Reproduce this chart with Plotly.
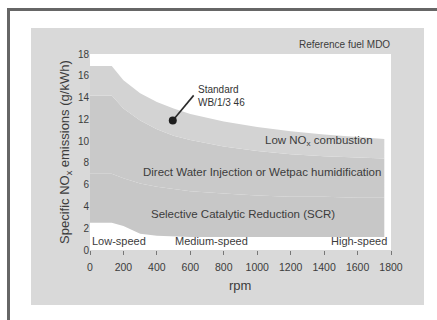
import plotly.graph_objects as go

# ---- data ----
rpm = [0, 130, 200, 300, 400, 500, 600, 800, 1000, 1200, 1400, 1600, 1760]
standard_top = [16.9, 16.9, 15.6, 14.4, 13.6, 13.0, 12.5, 11.8, 11.3, 10.9, 10.6, 10.4, 10.2]
low_nox_bottom = [14.2, 14.2, 13.0, 11.9, 11.1, 10.5, 10.1, 9.5, 9.1, 8.8, 8.6, 8.5, 8.4]
dwi_bottom = [7.0, 7.0, 6.6, 6.1, 5.8, 5.6, 5.4, 5.2, 5.0, 4.9, 4.9, 4.8, 4.8]
scr_bottom = [2.5, 2.5, 2.2, 1.5, 1.3, 1.25, 1.2, 1.2, 1.2, 1.2, 1.2, 1.2, 1.2]

x_ticks = [0, 200, 400, 600, 800, 1000, 1200, 1400, 1600, 1800]
y_ticks = [0, 2, 4, 6, 8, 10, 12, 14, 16, 18]

standard_point = (495, 11.9)
standard_label_end = (620, 14.2)

band_labels = ["Low NO<sub>x</sub> combustion",
               "Direct Water Injection or Wetpac humidification",
               "Selective Catalytic Reduction (SCR)"]
speed_labels = ["Low-speed", "Medium-speed", "High-speed"]

# ---- layout geometry (pixels) ----
W, H = 437, 320
L, R, T, B = 90, 391, 54, 250


def px(x):
    return (x - L) / (R - L)


def py(y):
    return (B - y) / (B - T)


txt = "#3c3c3c"
font = "Liberation Sans, Arial, sans-serif"

fig = go.Figure()
fig.add_trace(go.Scatter(x=rpm, y=scr_bottom, mode="lines", line=dict(width=0),
                         hoverinfo="skip", showlegend=False))
fig.add_trace(go.Scatter(x=rpm, y=dwi_bottom, mode="lines", line=dict(width=0),
                         fill="tonexty", fillcolor="#c7c7c7", hoverinfo="skip", showlegend=False))
fig.add_trace(go.Scatter(x=rpm, y=low_nox_bottom, mode="lines", line=dict(width=0),
                         fill="tonexty", fillcolor="#c9c9c9", hoverinfo="skip", showlegend=False))
fig.add_trace(go.Scatter(x=rpm, y=standard_top, mode="lines", line=dict(width=0),
                         fill="tonexty", fillcolor="#d3d3d3", hoverinfo="skip", showlegend=False))
fig.add_trace(go.Scatter(x=[standard_point[0], standard_label_end[0]],
                         y=[standard_point[1], standard_label_end[1]],
                         mode="lines", line=dict(color="#2a2a2a", width=1.6),
                         hoverinfo="skip", showlegend=False))
fig.add_trace(go.Scatter(x=[standard_point[0]], y=[standard_point[1]], mode="markers",
                         marker=dict(color="#1e1e1e", size=8),
                         hoverinfo="skip", showlegend=False))

shapes = [
    # grey panel
    dict(type="rect", xref="paper", yref="paper", x0=px(31), x1=px(424), y0=py(305), y1=py(28),
         fillcolor="#d9d9d9", line=dict(width=0), layer="below"),
    # white plotting area
    dict(type="rect", xref="paper", yref="paper", x0=0, x1=1, y0=0, y1=1,
         fillcolor="#ffffff", line=dict(width=0), layer="below"),
    # dark frame lines
    dict(type="rect", xref="paper", yref="paper", x0=px(7), x1=px(10), y0=py(322), y1=py(8),
         fillcolor="#666666", line=dict(width=0), layer="above"),
    dict(type="rect", xref="paper", yref="paper", x0=px(7), x1=px(440), y0=py(11), y1=py(8),
         fillcolor="#666666", line=dict(width=0), layer="above"),
]

annotations = [
    dict(text="Reference fuel MDO", xref="paper", yref="paper", x=px(392), y=py(44),
         xanchor="right", yanchor="middle", showarrow=False, font=dict(size=10, color=txt)),
    dict(text="Standard<br>WB/1/3 46", xref="paper", yref="paper", x=px(196), y=py(96),
         xanchor="left", yanchor="middle", align="left", showarrow=False,
         font=dict(size=10, color="#333333")),
    dict(text=band_labels[0], x=1370, y=10.0, showarrow=False, xanchor="center",
         font=dict(size=11.5, color=txt)),
    dict(text=band_labels[1], x=1030, y=7.2, showarrow=False, xanchor="center",
         font=dict(size=11.5, color=txt)),
    dict(text=band_labels[2], x=915, y=3.3, showarrow=False, xanchor="center",
         font=dict(size=11.5, color=txt)),
    dict(text=speed_labels[0], x=2, y=0.85, showarrow=False, xanchor="left",
         font=dict(size=11, color=txt)),
    dict(text=speed_labels[1], x=725, y=0.85, showarrow=False, xanchor="center",
         font=dict(size=11, color=txt)),
    dict(text=speed_labels[2], x=1790, y=0.85, showarrow=False, xanchor="right",
         font=dict(size=11, color=txt)),
    dict(text="Specific NO<sub>x</sub> emissions (g/kWh)", xref="paper", yref="paper",
         x=px(65), y=py(152), textangle=-90, showarrow=False, xanchor="center", yanchor="middle",
         font=dict(size=13, color=txt)),
    dict(text="rpm", xref="paper", yref="paper", x=px(240), y=py(285), showarrow=False,
         xanchor="center", yanchor="middle", font=dict(size=13, color=txt)),
]

fig.update_layout(
    width=W, height=H,
    margin=dict(l=L, r=W - R, t=T, b=H - B, pad=0),
    paper_bgcolor="#ffffff", plot_bgcolor="rgba(0,0,0,0)",
    font=dict(family=font, size=10, color=txt),
    shapes=shapes, annotations=annotations, showlegend=False,
    xaxis=dict(range=[0, 1800], tickvals=x_ticks, ticks="outside", ticklen=4, tickcolor="#777777",
               ticklabelstandoff=3,
               showgrid=False, zeroline=False, showline=False, tickfont=dict(size=10.5, color=txt)),
    yaxis=dict(range=[0, 18], tickvals=y_ticks, ticks="", showgrid=False, zeroline=False,
               showline=False, tickfont=dict(size=10, color=txt)),
)

fig.write_html("out.html")
